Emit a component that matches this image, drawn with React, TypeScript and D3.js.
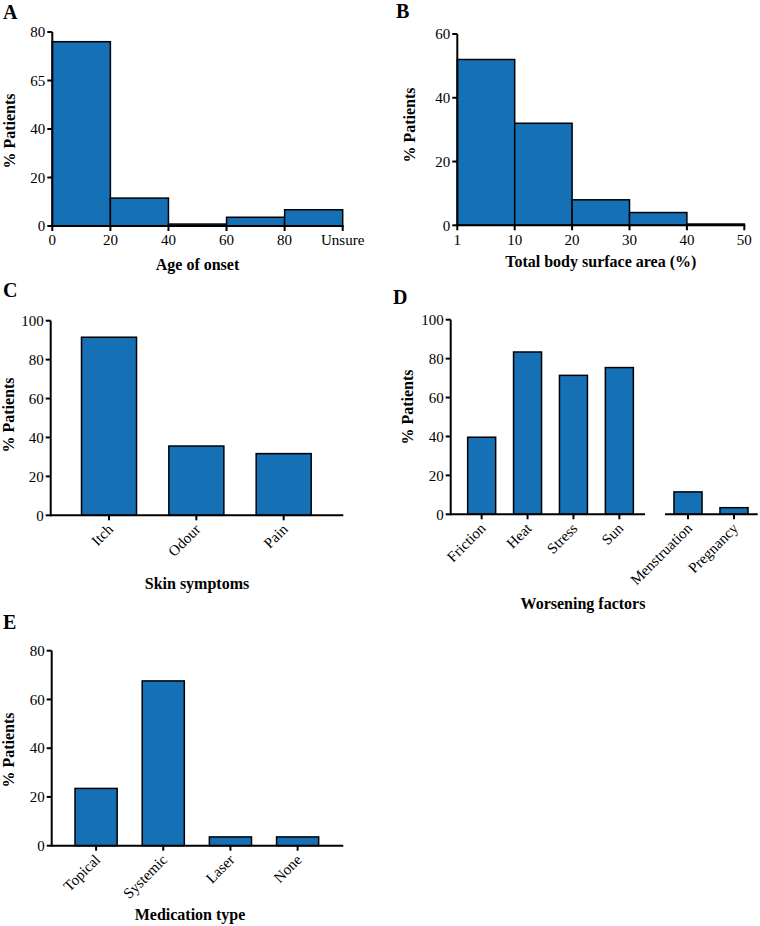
import React, { useEffect, useRef } from "react";
import * as d3 from "d3";

// ---------- DATA ----------
const ageTickValues = [0, 20, 40, 60, 80, 100];
const ageTickLabels = ["0", "20", "40", "60", "80", "Unsure"];
const ageValues = [76, 11.5, 0.8, 3.6, 6.7];
const ageYTicks = [0, 20, 40, 60, 80];
const ageYLabels = ["0", "20", "40", "65", "80"];

const tbsaTickLabels = ["1", "10", "20", "30", "40", "50"];
const tbsaValues = [52, 32, 8, 4, 0.4];
const tbsaYTicks = [0, 20, 40, 60];

const symptomCategories = ["Itch", "Odour", "Pain"];
const symptomValues = [91.5, 35.6, 31.7];

const worsenCategoriesA = ["Friction", "Heat", "Stress", "Sun"];
const worsenValuesA = [39.6, 83.4, 71.4, 75.4];
const worsenCategoriesB = ["Menstruation", "Pregnancy"];
const worsenValuesB = [11.5, 3.4];

const medCategories = ["Topical", "Systemic", "Laser", "None"];
const medValues = [23.5, 67.6, 3.6, 3.6];

const pctTicks100 = [0, 20, 40, 60, 80, 100];
const pctTicks80 = [0, 20, 40, 60, 80];

// ---------- STYLE ----------
const BLUE = "#1570b6";
const FONT = "'Liberation Serif', 'Times New Roman', serif";
const TICK_FS = 15;
const TITLE_FS = 16;

type Sel = d3.Selection<SVGGElement, unknown, null, undefined>;

function yAxis(g: Sel, y: d3.ScaleLinear<number, number>, x0: number, ticks: number[], labels?: string[]) {
  const [r0, r1] = y.range();
  g.append("line").attr("x1", x0).attr("x2", x0).attr("y1", r0 + 1).attr("y2", r1)
    .attr("stroke", "#000").attr("stroke-width", 2);
  ticks.forEach((t, i) => {
    g.append("line").attr("x1", x0 - 5).attr("x2", x0).attr("y1", y(t)).attr("y2", y(t))
      .attr("stroke", "#000").attr("stroke-width", 2);
    g.append("text").attr("x", x0 - 7).attr("y", y(t)).attr("dy", "0.35em")
      .attr("text-anchor", "end").attr("font-family", FONT).attr("font-size", TICK_FS)
      .text(labels ? labels[i] : String(t));
  });
}

function xLine(g: Sel, x1: number, x2: number, y0: number) {
  g.append("line").attr("x1", x1).attr("x2", x2).attr("y1", y0).attr("y2", y0)
    .attr("stroke", "#000").attr("stroke-width", 2);
}

function xTick(g: Sel, x: number, y0: number) {
  g.append("line").attr("x1", x).attr("x2", x).attr("y1", y0).attr("y2", y0 + 5)
    .attr("stroke", "#000").attr("stroke-width", 2);
}

function rotLabel(g: Sel, x: number, y0: number, text: string) {
  g.append("text").attr("transform", `translate(${x + 5},${y0 + 15}) rotate(-45)`)
    .attr("text-anchor", "end").attr("font-family", FONT).attr("font-size", TICK_FS).text(text);
}

function yTitle(g: Sel, x: number, y: number) {
  g.append("text").attr("transform", `translate(${x},${y}) rotate(-90)`)
    .attr("text-anchor", "middle").attr("font-family", FONT).attr("font-weight", "bold")
    .attr("font-size", TITLE_FS).text("% Patients");
}

function title(g: Sel, x: number, y: number, text: string) {
  g.append("text").attr("x", x).attr("y", y).attr("text-anchor", "middle")
    .attr("font-family", FONT).attr("font-weight", "bold").attr("font-size", TITLE_FS).text(text);
}

function letter(g: Sel, x: number, y: number, text: string) {
  g.append("text").attr("x", x).attr("y", y).attr("font-family", FONT)
    .attr("font-weight", "bold").attr("font-size", 20).text(text);
}

function bandBars(g: Sel, cats: string[], vals: number[], x: d3.ScaleBand<string>, y: d3.ScaleLinear<number, number>) {
  g.selectAll(null).data(cats).enter().append("rect")
    .attr("x", (d) => x(d)!)
    .attr("y", (_d, i) => y(vals[i]))
    .attr("width", x.bandwidth())
    .attr("height", (_d, i) => y(0) - y(vals[i]))
    .attr("fill", BLUE).attr("stroke", "#000").attr("stroke-width", 1.5);
}

export default function App() {
  const ref = useRef<SVGSVGElement>(null);

  useEffect(() => {
    const svg = d3.select(ref.current!);
    svg.selectAll("*").remove();
    const root = svg.append("g") as unknown as Sel;

    // ---------- Panel A ----------
    {
      const g = root.append("g") as Sel;
      const x = d3.scaleLinear().domain([0, 100]).range([52.3, 342.7]);
      const y = d3.scaleLinear().domain([0, 80]).range([226, 32]);
      g.selectAll(null).data(ageValues).enter().append("rect")
        .attr("x", (_d, i) => x(ageTickValues[i]))
        .attr("y", (d) => y(d))
        .attr("width", (_d, i) => x(ageTickValues[i + 1]) - x(ageTickValues[i]))
        .attr("height", (d) => y(0) - y(d))
        .attr("fill", BLUE).attr("stroke", "#000").attr("stroke-width", 1.5);
      xLine(g, x(0) - 1, x(100) + 1, y(0));
      ageTickValues.forEach((t, i) => {
        xTick(g, x(t), y(0));
        g.append("text").attr("x", x(t)).attr("y", y(0) + 19).attr("text-anchor", "middle")
          .attr("font-family", FONT).attr("font-size", TICK_FS).text(ageTickLabels[i]);
      });
      yAxis(g, y, x(0), ageYTicks, ageYLabels);
      yTitle(g, 15, 131);
      title(g, (x(0) + x(100)) / 2, 270, "Age of onset");
      letter(g, 3, 19, "A");
    }

    // ---------- Panel B ----------
    {
      const g = root.append("g") as Sel;
      const x = d3.scaleLinear().domain([0, 5]).range([457.3, 744.3]);
      const y = d3.scaleLinear().domain([0, 60]).range([225.3, 34]);
      g.selectAll(null).data(tbsaValues).enter().append("rect")
        .attr("x", (_d, i) => x(i))
        .attr("y", (d) => y(d))
        .attr("width", (_d, i) => x(i + 1) - x(i))
        .attr("height", (d) => y(0) - y(d))
        .attr("fill", BLUE).attr("stroke", "#000").attr("stroke-width", 1.5);
      xLine(g, x(0) - 1, x(5) + 1, y(0));
      tbsaTickLabels.forEach((lab, i) => {
        xTick(g, x(i), y(0));
        g.append("text").attr("x", x(i)).attr("y", y(0) + 20).attr("text-anchor", "middle")
          .attr("font-family", FONT).attr("font-size", TICK_FS).text(lab);
      });
      yAxis(g, y, x(0), tbsaYTicks);
      yTitle(g, 415, 125);
      title(g, (x(0) + x(5)) / 2, 267, "Total body surface area (%)");
      letter(g, 396, 18, "B");
    }

    // ---------- Panel C ----------
    {
      const g = root.append("g") as Sel;
      const x = d3.scaleBand<string>().domain(symptomCategories).range([65.35, 327.35])
        .paddingInner(0.37).paddingOuter(0.185);
      const y = d3.scaleLinear().domain([0, 100]).range([515.3, 320.7]);
      bandBars(g, symptomCategories, symptomValues, x, y);
      xLine(g, 50.7, 343.3, y(0));
      symptomCategories.forEach((c) => {
        const cx = x(c)! + x.bandwidth() / 2;
        xTick(g, cx, y(0));
        rotLabel(g, cx, y(0), c);
      });
      yAxis(g, y, 50.7, pctTicks100);
      yTitle(g, 14, 415);
      title(g, 197, 589, "Skin symptoms");
      letter(g, 3, 297, "C");
    }

    // ---------- Panel D ----------
    {
      const g = root.append("g") as Sel;
      const y = d3.scaleLinear().domain([0, 100]).range([514.3, 319.7]);
      const xa = d3.scaleBand<string>().domain(worsenCategoriesA).range([458.7, 642.3])
        .paddingInner(0.39).paddingOuter(0.195);
      const xb = d3.scaleBand<string>().domain(worsenCategoriesB).range([665, 757])
        .paddingInner(0.39).paddingOuter(0.195);
      bandBars(g, worsenCategoriesA, worsenValuesA, xa, y);
      bandBars(g, worsenCategoriesB, worsenValuesB, xb, y);
      xLine(g, 450.7, 645, y(0));
      xLine(g, 665, 757.7, y(0));
      worsenCategoriesA.forEach((c) => {
        const cx = xa(c)! + xa.bandwidth() / 2;
        xTick(g, cx, y(0));
        rotLabel(g, cx, y(0), c);
      });
      worsenCategoriesB.forEach((c) => {
        const cx = xb(c)! + xb.bandwidth() / 2;
        xTick(g, cx, y(0));
        rotLabel(g, cx, y(0), c);
      });
      yAxis(g, y, 450.7, pctTicks100);
      yTitle(g, 413, 407);
      title(g, 583, 609, "Worsening factors");
      letter(g, 393, 304, "D");
    }

    // ---------- Panel E ----------
    {
      const g = root.append("g") as Sel;
      const x = d3.scaleBand<string>().domain(medCategories).range([62.5, 331.2])
        .paddingInner(0.373).paddingOuter(0.1865);
      const y = d3.scaleLinear().domain([0, 80]).range([845.7, 650.7]);
      bandBars(g, medCategories, medValues, x, y);
      xLine(g, 51.7, 343.3, y(0));
      medCategories.forEach((c) => {
        const cx = x(c)! + x.bandwidth() / 2;
        xTick(g, cx, y(0));
        rotLabel(g, cx, y(0), c);
      });
      yAxis(g, y, 51.7, pctTicks80);
      yTitle(g, 14, 750);
      title(g, 190, 920, "Medication type");
      letter(g, 3, 629, "E");
    }
  }, []);

  return (
    <svg
      ref={ref}
      width={760}
      height={926}
      style={{ position: "absolute", left: 0, top: 0, background: "#fff" }}
    />
  );
}
